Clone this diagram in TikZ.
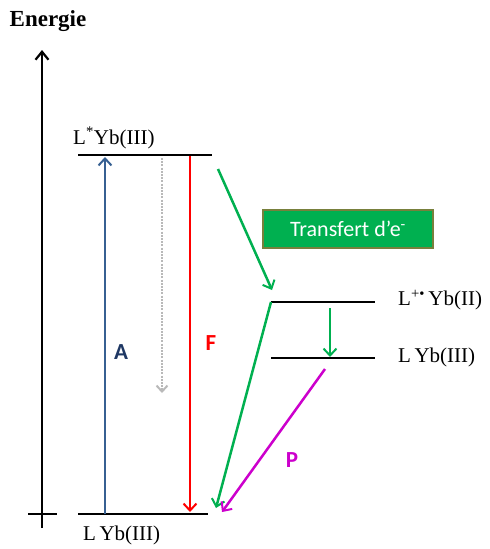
\documentclass[tikz,border=0pt]{standalone}
\usepackage{fontspec}
\setmainfont{Liberation Serif}
\newfontfamily\calibri{Carlito}
\usetikzlibrary{arrows.meta}
\definecolor{agreen}{RGB}{0,176,80}
\definecolor{ablue}{RGB}{55,96,146}
\definecolor{adarkblue}{RGB}{31,56,100}
\definecolor{amag}{RGB}{204,0,204}
\definecolor{agray}{RGB}{185,185,185}
\definecolor{aborder}{RGB}{120,128,60}
\tikzset{
  level/.style={line width=2.8pt, black},
  tip/.style={-{Straight Barb[length=7pt,width=13pt,line width=2pt]}},
  trans/.style={tip, line width=2.5pt},
  lbl/.style={font=\fontsize{21}{21}\selectfont, inner sep=0pt},
  slbl/.style={font=\calibri\bfseries\fontsize{23}{23}\selectfont, inner sep=0pt},
}
\begin{document}
\begin{tikzpicture}[x=1pt,y=-1pt]
\useasboundingbox (0,0) rectangle (490,549);
% axis
\node[font=\bfseries\fontsize{23}{23}\selectfont, inner sep=0pt] (energie) at (48,21) {Energie};
\coordinate (axB) at (42,528);
\coordinate (axT) at (42,50);
\coordinate (tkL) at (28,514);
\coordinate (tkR) at (57,514);
\draw[line width=2.5pt, -{Straight Barb[length=8pt,width=13pt,line width=2.2pt]}] (axB) -- (axT);
\draw[line width=2.5pt] (tkL) -- (tkR);
% levels
\coordinate (topL) at (78,155); \coordinate (topR) at (212,155);
\coordinate (botL) at (78,514); \coordinate (botR) at (208,514);
\coordinate (midL) at (271,302); \coordinate (midR) at (375,302);
\coordinate (lowL) at (271,358); \coordinate (lowR) at (375,358);
\draw[level] (topL) -- (topR);
\draw[level] (botL) -- (botR);
\draw[level] (midL) -- (midR);
\draw[level] (lowL) -- (lowR);
\node[lbl, anchor=west] (ltop) at (73,138) {L\textsuperscript{*}Yb(III)};
\node[lbl, anchor=west] (lbot) at (83,535) {L\,Yb(III)};
\node[lbl, anchor=west] (lmid) at (398,300) {L\textsuperscript{+•}\,Yb(II)};
\node[lbl, anchor=west] (llow) at (398,357) {L\,Yb(III)};
% A
\coordinate (aB) at (105,514); \coordinate (aT) at (105,157);
\draw[tip, ablue, line width=2.3pt] (aB) -- (aT);
\node[slbl, text=adarkblue] (A) at (121,352) {A};
% gray dotted
\coordinate (gT) at (162,158); \coordinate (gB) at (162,393);
\draw[agray, line width=2.3pt, dash pattern=on 2pt off 1.2pt, -{Straight Barb[length=6pt,width=11pt,line width=2pt]}] (gT) -- (gB);
% F
\coordinate (fT) at (190,156); \coordinate (fB) at (190,512);
\draw[trans, red] (fT) -- (fB);
\node[slbl, text=red] (F) at (211,343) {F};
% electron transfer
\coordinate (e1) at (218,169); \coordinate (e2) at (272,290);
\draw[trans, agreen] (e1) -- (e2);
\node[draw=aborder, line width=1.5pt, fill=agreen, text=white, minimum width=170pt, minimum height=38pt, inner sep=0pt, font=\calibri\fontsize{22}{22}\selectfont] (box) at (348,229) {Transfert d’e\textsuperscript{-}};
% mid to low
\coordinate (m1) at (330,308); \coordinate (m2) at (330,357);
\draw[trans, agreen] (m1) -- (m2);
% mid to bottom
\coordinate (b2) at (216,508);
\draw[trans, agreen] (midL) -- (b2);
% P
\coordinate (p1) at (325,369); \coordinate (p2) at (222,512);
\draw[trans, amag] (p1) -- (p2);
\node[slbl, text=amag] (P) at (292,460) {P};
\end{tikzpicture}
\end{document}
